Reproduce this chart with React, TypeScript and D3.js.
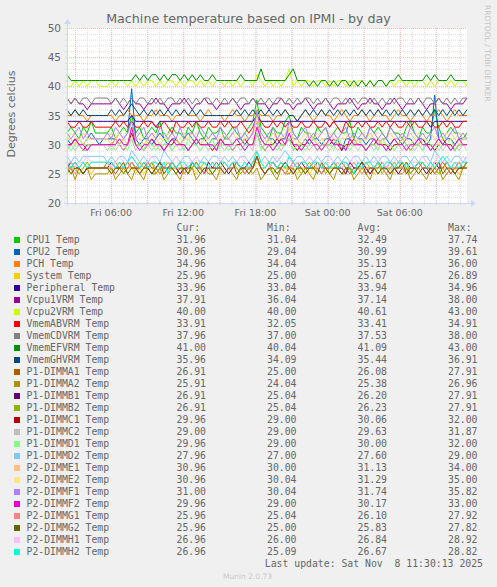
import * as d3 from "d3";

// munin day graph: 100 samples spread over the shown window, Fri 02:20 -> Sat 11:35
const startTime = new Date(2025, 10, 7, 2, 20);
const endTime = new Date(2025, 10, 8, 11, 35);

const names = [
  "CPU1 Temp", "CPU2 Temp", "PCH Temp", "System Temp", "Peripheral Temp",
  "Vcpu1VRM Temp", "Vcpu2VRM Temp", "VmemABVRM Temp", "VmemCDVRM Temp",
  "VmemEFVRM Temp", "VmemGHVRM Temp", "P1-DIMMA1 Temp", "P1-DIMMA2 Temp",
  "P1-DIMMB1 Temp", "P1-DIMMB2 Temp", "P1-DIMMC1 Temp", "P1-DIMMC2 Temp",
  "P1-DIMMD1 Temp", "P1-DIMMD2 Temp", "P2-DIMME1 Temp", "P2-DIMME2 Temp",
  "P2-DIMMF1 Temp", "P2-DIMMF2 Temp", "P2-DIMMG1 Temp", "P2-DIMMG2 Temp",
  "P2-DIMMH1 Temp", "P2-DIMMH2 Temp",
];

const colors = [
  "#00CC00", "#0066B3", "#FF8000", "#FFCC00", "#330099", "#990099", "#CCFF00",
  "#FF0000", "#808080", "#008F00", "#00487D", "#B35A00", "#B38F00", "#6B006B",
  "#8FB300", "#B30000", "#BEBEBE", "#80FF80", "#80C9FF", "#FFC080", "#FFE680",
  "#AA80FF", "#EE00CC", "#FF8080", "#666600", "#FFBFFF", "#00FFCC",
];

const curValues = ["31.96", "30.96", "34.96", "25.96", "33.96", "37.91", "40.00", "33.91", "37.96", "41.00", "35.96", "26.91", "25.91", "26.91", "26.91", "29.96", "29.00", "29.96", "27.96", "30.96", "30.96", "31.00", "29.96", "25.96", "25.96", "26.96", "26.96"];
const minValues = ["31.04", "29.04", "34.04", "25.00", "33.04", "36.04", "40.00", "32.05", "37.00", "40.04", "34.09", "25.00", "24.04", "25.04", "25.04", "29.00", "29.00", "29.00", "27.00", "30.00", "30.04", "30.04", "29.00", "25.04", "25.00", "26.00", "25.09"];
const avgValues = ["32.49", "30.99", "35.13", "25.67", "33.94", "37.14", "40.61", "33.41", "37.53", "41.09", "35.44", "26.08", "25.38", "26.20", "26.23", "30.06", "29.63", "30.00", "27.60", "31.13", "31.29", "31.74", "30.17", "26.10", "25.83", "26.84", "26.67"];
const maxValues = ["37.74", "39.61", "36.00", "26.89", "34.96", "38.00", "43.00", "34.91", "38.00", "43.00", "36.91", "27.91", "26.96", "27.91", "27.91", "32.00", "31.87", "32.00", "29.00", "34.00", "35.00", "35.82", "33.00", "27.92", "27.82", "28.92", "28.82"];

const cpu1 = [32,33,32,31,33,32,34,32,32,32,32,33,31,32,33,32,35,32,33,31,
  32,33,32,34,31,32,33,32,32,31,33,32,34,32,31,33,32,32,33,31,
  32,33,32,31,32,33,34,37.7,33,32,31,33,32,32,34,35,32,31,33,32,
  32,31,33,32,33,31,32,33,32,32,34,31,33,32,31,33,32,33,32,31,
  33,32,32,31,33,34,32,31,33,32,32,36,33,31,32,33,32,32,31,32];
const cpu2 = [31,30,31,31,30,31,32,31,30,31,31,31,31,30,31,32,39.6,31,30,31,
  31,30,31,32,31,30,31,31,30,31,32,31,30,31,31,30,31,31,30,31,
  31,30,31,31,30,31,32,34,31,30,31,31,30,31,31,33,31,31,30,31,
  30,31,31,30,31,31,30,31,29,31,31,30,31,31,30,31,31,30,31,31,
  30,31,31,30,31,31,30,31,31,30,31,38.5,31,30,31,31,30,31,31,31];
const pch = [35,35,36,35,35,34,35,35,35,35,35,35,34,35,35,36,35,35,35,34,
  35,35,36,35,35,35,34,35,35,36,35,35,35,34,35,36,35,35,35,34,
  35,36,35,35,34,35,35,36,35,35,35,34,35,35,36,35,35,34,35,36,
  35,34,35,36,35,35,34,35,36,35,34,35,35,36,35,34,35,36,35,35,
  34,35,36,35,35,34,35,36,35,34,35,35,36,35,34,35,36,35,35,35];
const system = [26,25,26,26,25,26,25,26,26,26,26,25,26,26,25,26,26,25,26,25,
  26,26,25,26,25,26,26,25,26,26,25,26,25,26,26,25,26,26,25,26,
  25,26,26,25,26,25,26,27,26,25,26,26,25,26,26,25,26,25,26,26,
  25,26,26,25,26,25,26,26,25,26,26,25,26,25,26,26,25,26,26,25,
  26,25,26,26,25,26,26,25,26,25,26,26,25,26,26,25,26,25,26,26];
const peripheral = [34,34,34,34,34,34,34,34,34,34,34,34,34,34,34,34,35,34,34,34,
  34,34,33,34,34,34,34,34,34,34,34,34,34,34,34,34,34,34,34,34,
  34,34,34,34,34,34,34,35,34,34,34,34,34,34,34,34,34,34,34,34,
  34,34,34,34,34,33,34,34,34,34,34,34,34,34,34,34,34,34,34,34,
  34,34,34,34,34,34,34,34,34,34,33,34,34,34,34,34,34,34,34,34];
const vcpu1 = [38,37,38,37,37,36,37,37,37,37,37,37,38,37,36,37,38,37,37,36,
  37,37,38,37,37,36,37,37,37,38,37,36,37,37,38,37,37,36,37,37,
  37,38,37,36,37,37,38,37,37,37,36,37,37,38,37,37,36,37,37,38,
  37,36,37,37,38,37,36,37,37,37,38,37,36,37,37,38,37,37,36,37,
  37,38,37,36,37,37,37,38,37,36,37,37,38,37,37,36,37,37,37,38];
const vcpu2 = [40,40,41,40,41,40,41,41,40,40,40,41,40,41,41,40,41,40,41,40,
  41,41,40,41,40,41,41,40,41,40,41,41,40,41,40,41,40,41,41,40,
  41,40,41,40,41,41,40,42,41,40,41,40,41,40,41,43,40,41,40,41,
  41,40,41,41,40,41,40,41,41,40,41,40,41,41,40,41,40,41,41,40,
  41,40,41,41,40,41,40,41,41,40,41,40,41,41,40,41,40,41,41,40];
const abvrm = [34,33,33,34,33,33,34,33,33,33,33,33,34,33,34,33,34,33,33,34,
  33,34,33,33,34,33,32,34,33,33,34,33,34,33,33,34,33,33,34,33,
  34,33,33,34,33,32,33,35,34,33,33,34,33,34,33,34,33,33,34,33,
  33,34,33,33,34,33,34,33,32,34,33,33,34,33,34,33,33,34,33,34,
  33,34,33,33,34,33,34,33,33,34,34,33,33,34,33,34,33,33,34,34];
const cdvrm = [38,37,38,37,38,38,37,38,38,38,38,37,38,37,38,37,38,37,38,38,
  37,38,37,38,37,38,38,37,38,37,38,37,38,37,38,38,37,38,37,38,
  37,38,37,38,38,37,38,37,38,37,38,37,38,38,37,38,37,38,37,38,
  38,37,38,37,38,37,38,38,37,38,37,38,37,38,38,37,38,37,38,37,
  38,37,38,38,37,38,37,38,37,38,38,37,38,37,38,37,38,37,38,38];
const efvrm = [42,41,41,41,41,41,41,41,41,41,41,41,41,41,41,41,41,42,41,42,
  41,42,42,41,42,41,42,42,41,42,41,42,41,42,41,41,42,41,41,41,
  41,41,41,42,41,41,41,41,43,41,41,41,41,41,41,42,43,41,41,41,
  40,41,40,41,41,40,41,40,41,41,40,41,40,41,40,41,40,41,41,40,
  41,41,42,41,41,41,41,41,41,42,41,42,41,41,41,42,41,41,41,41];
const ghvrm = [36,35,36,35,36,35,35,35,35,35,35,36,35,36,35,36,37,36,35,36,
  35,36,35,36,35,36,35,36,35,36,35,36,35,36,35,35,35,35,35,35,
  35,35,36,35,36,35,36,35,36,35,36,35,36,35,36,35,35,34,35,36,
  35,36,35,36,35,36,35,36,35,36,35,36,35,36,35,36,35,36,35,36,
  35,36,35,36,35,36,35,36,35,36,35,36,35,36,35,36,35,36,35,36];
const dimmA1 = [26,26,27,26,25,26,26,26,26,26,27,26,25,26,26,27,26,26,25,26,
  27,26,26,25,26,26,27,26,25,26,26,26,27,26,25,26,26,27,26,25,
  26,26,27,26,25,26,26,28,26,25,26,27,26,26,25,26,26,27,26,25,
  26,26,27,26,26,25,26,26,27,26,25,26,26,27,26,25,26,26,27,26,
  25,26,26,27,26,25,26,26,27,26,26,25,26,27,26,25,26,26,26,27];
const dimmA2 = [25,26,24,26,25,26,24,25,25,25,25,26,24,25,26,25,24,26,25,24,
  26,25,25,26,24,25,26,25,24,26,25,26,24,25,26,25,25,24,26,25,
  26,25,24,26,25,26,25,26,24,25,26,25,24,26,25,25,26,24,25,26,
  25,24,26,25,26,25,24,26,25,25,26,24,25,26,25,24,26,25,26,25,
  24,26,25,25,26,24,25,26,25,24,26,25,26,24,25,26,25,24,26,26];
const dimmB1 = [26,27,26,26,25,26,26,26,26,26,26,27,26,26,25,26,27,26,26,27,
  26,25,26,27,26,26,27,26,25,26,26,27,26,26,25,27,26,26,27,26,
  25,26,27,26,26,27,26,28,26,25,26,27,26,26,27,26,25,26,27,26,
  26,27,26,25,26,26,27,26,26,25,27,26,26,27,26,25,26,27,26,26,
  27,26,25,26,27,26,26,27,26,25,26,27,26,26,27,26,25,26,26,27];
const dimmB2 = [27,26,26,25,26,27,26,26,26,26,26,26,27,26,25,26,27,26,27,26,
  26,27,25,26,26,27,26,26,27,25,26,26,27,26,27,26,25,26,26,27,
  26,27,26,25,26,26,27,28,26,26,27,25,26,27,26,26,27,26,25,26,
  27,26,26,27,25,26,26,27,26,27,26,25,26,26,27,26,26,27,25,26,
  26,27,26,26,27,25,26,27,26,26,27,26,25,26,27,26,26,27,26,27];
const dimmC1 = [30,30,31,30,29,30,30,30,30,30,30,30,31,30,29,30,32,30,30,29,
  30,31,30,30,29,30,30,31,30,30,29,30,31,30,30,30,29,30,31,30,
  30,29,30,30,31,30,30,32,30,29,30,30,31,30,30,31,30,29,30,30,
  31,30,29,30,30,30,31,30,29,30,30,31,30,30,29,30,30,31,30,30,
  29,30,30,31,30,29,30,30,31,30,30,29,30,31,30,30,29,30,30,30];
const dimmC2 = [29,30,29,30,29,29,30,30,30,30,29,30,29,30,29,30,31,29,30,29,
  30,29,30,29,30,30,29,30,29,30,29,30,30,29,30,29,30,29,30,29,
  30,29,30,29,30,30,29,32,30,29,30,29,30,29,30,31,29,30,29,30,
  29,30,29,30,30,29,30,29,30,29,30,30,29,30,29,30,29,30,30,29,
  30,29,30,29,30,30,29,30,29,30,29,30,30,29,30,29,30,29,30,29];
const dimmD1 = [30,29,30,31,30,30,30,30,30,30,30,29,30,31,30,29,31,30,30,29,
  31,30,29,30,30,31,29,30,30,29,31,30,30,29,30,30,31,29,30,30,
  29,30,31,30,29,30,30,32,29,30,31,30,29,30,30,31,29,30,30,29,
  30,31,30,29,30,30,29,31,30,30,29,30,31,30,29,30,30,29,31,30,
  30,29,30,31,30,29,30,30,29,31,30,30,29,30,30,31,29,30,30,30];
const dimmD2 = [28,27,28,27,28,28,28,28,28,28,27,28,27,28,28,27,29,28,27,28,
  27,28,28,27,29,28,27,28,27,28,28,27,28,27,28,27,28,28,27,28,
  27,28,27,28,28,27,28,29,27,28,27,28,27,28,29,28,27,28,28,27,
  28,27,28,27,28,28,27,28,27,28,27,28,28,27,28,27,28,27,28,28,
  27,28,27,28,28,27,28,27,28,28,27,29,28,27,28,27,28,28,27,28];
const dimmE1 = [31,31,30,31,32,31,31,31,31,31,31,30,31,32,31,30,33,31,31,30,
  31,32,31,30,31,31,32,31,30,31,31,32,31,30,31,31,32,31,30,31,
  31,32,31,30,31,31,32,34,31,30,31,32,31,31,30,33,31,31,30,31,
  32,31,30,31,31,32,31,30,31,31,32,31,30,31,31,32,31,30,31,31,
  32,31,30,31,31,32,31,30,31,31,32,31,30,31,31,32,31,30,31,31];
const dimmE2 = [31,32,31,31,30,31,31,31,31,31,31,32,31,30,31,32,33,31,32,31,
  30,31,32,31,31,32,31,30,31,32,31,31,32,31,30,31,32,31,31,32,
  31,30,31,32,31,32,31,35,32,31,30,31,32,31,32,33,31,30,31,32,
  31,31,32,31,30,31,32,31,31,32,31,30,31,32,31,31,32,31,30,31,
  32,31,31,32,31,30,31,32,31,31,32,31,30,31,32,31,31,32,31,31];
const dimmF1 = [32,31,32,33,31,32,31,31,31,31,32,31,33,32,31,32,34,31,32,33,
  31,32,31,33,32,31,32,31,33,31,32,32,31,33,32,31,32,31,33,32,
  31,32,33,31,32,31,32,35.8,32,31,32,33,31,32,31,34,32,31,32,33,
  31,32,31,32,33,31,32,31,32,33,31,32,31,32,31,33,32,31,32,31,
  33,32,31,32,31,33,32,31,32,31,32,33,31,32,31,32,33,31,32,31];
const dimmF2 = [30,30,31,30,30,29,30,30,30,30,30,30,30,31,30,30,33,30,29,30,
  30,31,30,30,29,30,31,30,30,30,29,30,31,30,30,30,30,29,31,30,
  30,30,31,30,29,30,30,33,31,30,30,29,30,31,30,32,30,30,29,30,
  31,30,30,29,30,31,30,30,30,29,31,30,30,30,29,30,31,30,30,29,
  30,31,30,30,29,30,30,31,30,30,29,30,31,30,30,29,30,31,30,30];
const dimmG1 = [26,26,25,26,27,26,26,26,26,26,26,25,26,27,26,26,27,26,25,26,
  26,27,26,25,26,26,27,26,26,25,26,27,26,26,25,26,27,26,26,25,
  26,26,27,26,25,26,26,28,26,25,26,27,26,26,25,26,27,26,26,25,
  26,27,26,25,26,26,27,26,25,26,26,27,26,25,26,26,26,27,26,25,
  26,26,27,26,25,26,26,27,26,26,25,26,27,26,25,26,26,27,26,26];
const dimmG2 = [26,25,26,26,25,26,26,26,26,26,26,25,26,26,27,25,26,26,25,26,
  26,25,26,27,25,26,26,25,26,26,25,27,26,25,26,26,25,26,26,25,
  26,27,25,26,26,25,26,28,26,25,26,26,25,26,27,26,25,26,26,25,
  26,26,25,27,26,25,26,26,25,26,26,25,26,27,25,26,26,25,26,26,
  25,26,26,27,25,26,26,25,26,26,25,26,27,25,26,26,25,26,26,26];
const dimmH1 = [27,27,26,27,27,28,27,27,27,27,27,26,27,28,27,27,28,27,26,27,
  27,28,27,26,27,27,27,28,27,26,27,27,28,27,27,26,27,27,28,27,
  26,27,27,28,27,26,27,29,27,27,26,27,28,27,27,28,26,27,27,27,
  28,27,26,27,27,28,27,27,26,27,27,28,27,26,27,27,27,28,27,26,
  27,27,28,27,26,27,27,27,28,27,26,27,28,27,27,26,27,27,28,27];
const dimmH2 = [27,26,27,26,27,26,27,27,27,27,27,27,26,27,26,27,28,27,26,27,
  26,27,27,26,27,25,27,26,27,27,26,27,26,27,27,26,27,26,27,27,
  26,27,27,26,27,26,27,28.8,27,26,27,27,26,27,26,28,27,26,27,27,
  26,27,27,26,27,26,27,26,27,27,26,25,27,26,27,27,26,27,26,27,
  27,26,27,27,26,27,26,27,27,26,27,26,27,28,27,26,27,26,27,27];

const seriesValues = [
  cpu1, cpu2, pch, system, peripheral, vcpu1, vcpu2, abvrm, cdvrm, efvrm, ghvrm,
  dimmA1, dimmA2, dimmB1, dimmB2, dimmC1, dimmC2, dimmD1, dimmD2, dimmE1, dimmE2,
  dimmF1, dimmF2, dimmG1, dimmG2, dimmH1, dimmH2,
];

const yTicks = [20, 25, 30, 35, 40, 45, 50];

const W = 497;
const H = 587;
const plot = { left: 67, right: 467, top: 28, bottom: 203 };
const FONT = "#666666";

export default function App() {
  const n = cpu1.length;
  const span = +endTime - +startTime;
  const times = cpu1.map((_, i) => new Date(+startTime + (span * i) / (n - 1)));

  const x = d3.scaleTime().domain([startTime, endTime]).range([plot.left, plot.right]);
  const y = d3.scaleLinear().domain([20, 50]).range([plot.bottom, plot.top]);

  const line = d3
    .line<number>()
    .x((_, i) => x(times[i]))
    .y((d) => y(d));

  const minorY = d3.range(20, 51);
  const minorX = d3.timeHour.every(1)!.range(startTime, endTime);
  const majorX = d3.timeHour.every(3)!.range(startTime, endTime);
  const labelX = d3.timeHour.every(6)!.range(startTime, endTime);
  const fmt = d3.timeFormat("%a %H:%M");

  const mono = "'DejaVu Sans Mono', monospace";
  const sans = "'DejaVu Sans', sans-serif";
  const cols = [176.5, 267, 357.5, 448];
  const rowY = (i: number) => 243 + i * 12;

  return (
    <svg
      width={W}
      height={H}
      style={{ position: "absolute", left: 0, top: 0 }}
      fontFamily={sans}
    >
      <rect width={W} height={H} fill="#F0F0F0" />
      <rect
        x={plot.left}
        y={plot.top}
        width={plot.right - plot.left}
        height={plot.bottom - plot.top}
        fill="#FFFFFF"
      />

      {/* minor grid */}
      {minorY.map((v) => (
        <line key={"my" + v} x1={plot.left} x2={plot.right} y1={y(v) + 0.5} y2={y(v) + 0.5}
          stroke="#DCDCDC" strokeDasharray="1,1" />
      ))}
      {minorX.map((t) => (
        <line key={"mx" + +t} x1={x(t) + 0.5} x2={x(t) + 0.5} y1={plot.top} y2={plot.bottom}
          stroke="#DCDCDC" strokeDasharray="1,1" />
      ))}
      {/* major grid */}
      {yTicks.map((v) => (
        <line key={"gy" + v} x1={plot.left} x2={plot.right} y1={y(v) + 0.5} y2={y(v) + 0.5}
          stroke="#EDB9B9" strokeDasharray="1,1" />
      ))}
      {majorX.map((t) => (
        <line key={"gx" + +t} x1={x(t) + 0.5} x2={x(t) + 0.5} y1={plot.top} y2={plot.bottom}
          stroke="#EDB9B9" strokeDasharray="1,1" />
      ))}

      {/* series */}
      {seriesValues.map((vals, k) => (
        <path key={names[k]} d={line(vals) ?? ""} fill="none" stroke={colors[k]} strokeWidth={1} />
      ))}

      {/* axes */}
      <line x1={plot.left - 3} x2={plot.right + 4} y1={plot.bottom + 0.5} y2={plot.bottom + 0.5} stroke="#CFD6F8" />
      <line x1={plot.left + 0.5} x2={plot.left + 0.5} y1={plot.bottom + 3} y2={plot.top - 4} stroke="#CFD6F8" />
      <path d={`M${plot.right + 4},${plot.bottom - 3} L${plot.right + 9},${plot.bottom + 0.5} L${plot.right + 4},${plot.bottom + 4} Z`} fill="#CFD6F8" />
      <path d={`M${plot.left - 3},${plot.top - 4} L${plot.left + 0.5},${plot.top - 9} L${plot.left + 4},${plot.top - 4} Z`} fill="#CFD6F8" />
      {minorX.map((t) => (
        <line key={"tx" + +t} x1={x(t) + 0.5} x2={x(t) + 0.5} y1={plot.bottom - 1} y2={plot.bottom + 2} stroke="#CFD6F8" />
      ))}
      {minorY.map((v) => (
        <line key={"ty" + v} x1={plot.left - 2} x2={plot.left + 1} y1={y(v) + 0.5} y2={y(v) + 0.5} stroke="#CFD6F8" />
      ))}

      {/* tick labels */}
      {yTicks.map((v) => (
        <text key={"yl" + v} x={61} y={y(v) + 4} textAnchor="end" fontSize={10.5} fill={FONT}>
          {v}
        </text>
      ))}
      {labelX.map((t) => (
        <text key={"xl" + +t} x={x(t)} y={216} textAnchor="middle" fontSize={9.5} fill={FONT}>
          {fmt(t)}
        </text>
      ))}

      {/* titles */}
      <text x={248.5} y={23} textAnchor="middle" fontSize={12.7} fill={FONT}>
        Machine temperature based on IPMI - by day
      </text>
      <text transform="translate(15,114) rotate(-90)" textAnchor="middle" fontSize={11} fill={FONT}>
        Degrees celcius
      </text>
      <text transform="translate(485,5) rotate(90)" textAnchor="start" fontSize={7.5} fill="#C4C4C4">
        RRDTOOL / TOBI OETIKER
      </text>

      {/* legend */}
      <g fontFamily={mono} fontSize={9.8} fill={FONT}>
        {["Cur:", "Min:", "Avg:", "Max:"].map((h, j) => (
          <text key={h} x={cols[j]} y={231}>{h}</text>
        ))}
        {names.map((nm, i) => (
          <g key={nm}>
            <rect x={14} y={rowY(i) - 6} width={6} height={6} fill={colors[i]} />
            <text x={26.5} y={rowY(i)} style={{ whiteSpace: "pre" }}>{nm}</text>
            <text x={cols[0]} y={rowY(i)}>{curValues[i]}</text>
            <text x={cols[1]} y={rowY(i)}>{minValues[i]}</text>
            <text x={cols[2]} y={rowY(i)}>{avgValues[i]}</text>
            <text x={cols[3]} y={rowY(i)}>{maxValues[i]}</text>
          </g>
        ))}
        <text x={483} y={567} textAnchor="end" style={{ whiteSpace: "pre" }}>
          {"Last update: Sat Nov  8 11:30:13 2025"}
        </text>
      </g>
      <text x={223} y={579} fontSize={7.5} fill="#C8C8C8">
        Munin 2.0.73
      </text>
    </svg>
  );
}
